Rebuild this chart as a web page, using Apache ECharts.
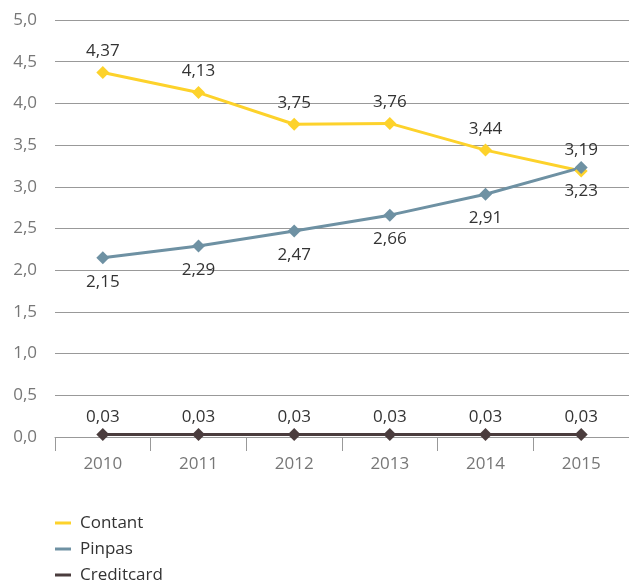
<!DOCTYPE html>
<html>
<head>
<meta charset="utf-8">
<script src="https://cdn.jsdelivr.net/npm/echarts@6/dist/echarts.min.js"></script>
<style>
  html, body { margin: 0; padding: 0; background: #fff; }
  #chart { width: 629px; height: 585px; }
</style>
</head>
<body>
<div id="chart"></div>
<script>
// Data
const years = ['2010', '2011', '2012', '2013', '2014', '2015']
const contant = [4.37, 4.13, 3.75, 3.76, 3.44, 3.19]
const pinpas = [2.15, 2.29, 2.47, 2.66, 2.91, 3.23]
const creditcard = [0.03, 0.03, 0.03, 0.03, 0.03, 0.03]

const font = 'Open Sans'
const comma = v => v.toFixed(2).replace('.', ',')

const chart = echarts.init(document.getElementById('chart'))

const lineSeries = (name, data, color, pos, dist) => ({
  name,
  type: 'line',
  data,
  symbol: 'diamond',
  symbolSize: 13,
  lineStyle: { color, width: 3 },
  itemStyle: { color },
  label: {
    show: true,
    position: pos,
    distance: dist,
    color: '#333',
    fontSize: 17,
    fontFamily: font,
    formatter: p => comma(p.value)
  }
})

chart.setOption({
  animation: false,
  grid: { left: 55, right: 0, top: 20, bottom: 148 },
  legend: {
    orient: 'vertical',
    left: 55,
    top: 514,
    padding: 0,
    icon: 'rect',
    itemWidth: 16,
    itemHeight: 3,
    itemGap: 8,
    textStyle: { color: '#333', fontSize: 17, lineHeight: 18, fontFamily: font, padding: [0, 0, 0, 4] },
    data: ['Contant', 'Pinpas', 'Creditcard']
  },
  xAxis: {
    type: 'category',
    data: years,
    boundaryGap: true,
    axisLine: { lineStyle: { color: '#999', width: 1 } },
    axisTick: { show: true, length: 14, lineStyle: { color: '#999' } },
    axisLabel: { color: '#777', fontSize: 17, fontFamily: font, margin: 19 }
  },
  yAxis: {
    type: 'value',
    min: 0,
    max: 5,
    interval: 0.5,
    axisLine: { show: false },
    axisTick: { show: false },
    axisLabel: {
      color: '#777',
      fontSize: 17,
      fontFamily: font,
      margin: 18,
      formatter: v => v.toFixed(1).replace('.', ',')
    },
    splitLine: { lineStyle: { color: '#999', width: 1 } }
  },
  series: [
    lineSeries('Contant', contant, '#FDD22B', 'top', 6),
    lineSeries('Pinpas', pinpas, '#6E91A3', 'bottom', 9),
    lineSeries('Creditcard', creditcard, '#4A3C3D', 'top', 2)
  ]
})
</script>
</body>
</html>
